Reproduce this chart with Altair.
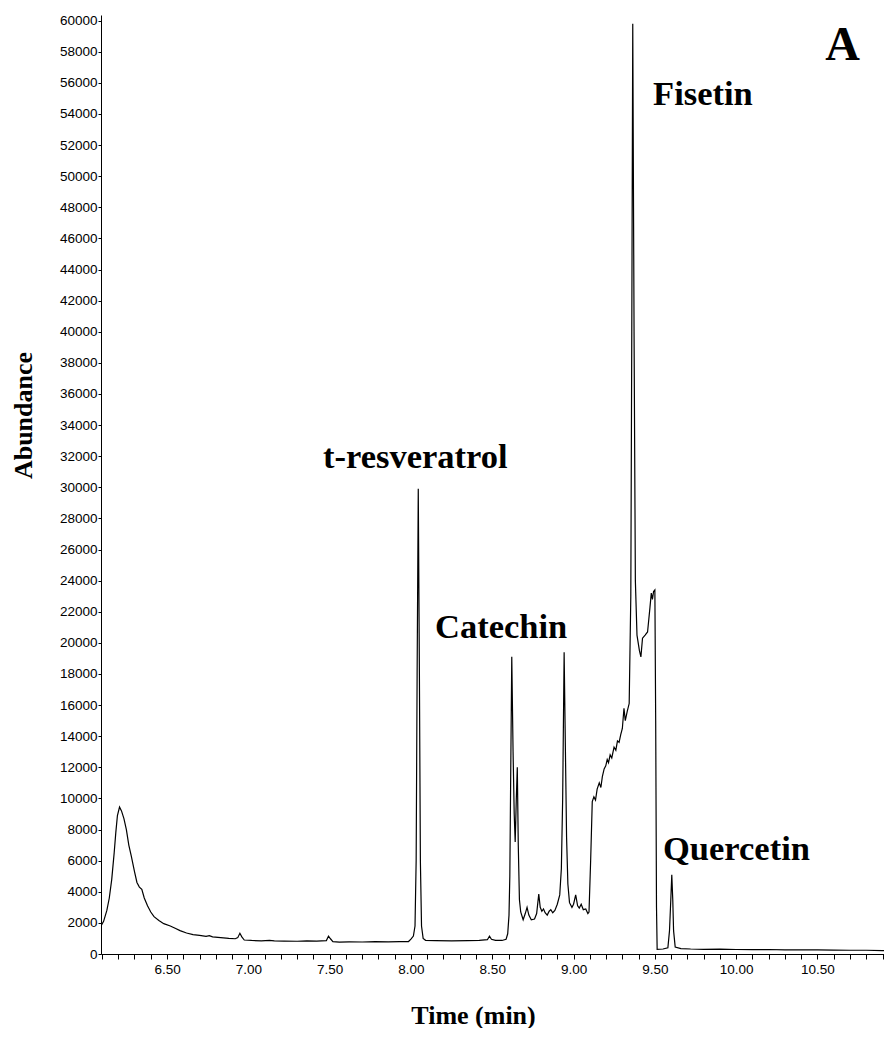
import altair as alt
import pandas as pd

# Chromatogram trace (time in min, abundance)
time_min = [
    6.094, 6.11, 6.13, 6.145, 6.16, 6.175, 6.185, 6.195, 6.208, 6.22, 6.235, 6.25, 6.265, 6.28,
    6.30, 6.315, 6.33, 6.345, 6.36, 6.38, 6.40, 6.42, 6.45, 6.48, 6.52, 6.55, 6.58, 6.62, 6.66,
    6.70, 6.74, 6.76, 6.78, 6.83, 6.88, 6.92, 6.935, 6.948, 6.96, 6.975, 7.02, 7.08, 7.13, 7.16,
    7.22, 7.30, 7.36, 7.42, 7.48, 7.493, 7.505, 7.52, 7.56, 7.62, 7.70, 7.78, 7.86, 7.93, 7.985,
    8.00, 8.015, 8.025, 8.032, 8.038, 8.045, 8.052, 8.058, 8.065, 8.075, 8.09, 8.15, 8.25, 8.35,
    8.42, 8.47, 8.483, 8.495, 8.52, 8.56, 8.585, 8.595, 8.603, 8.608, 8.613, 8.62, 8.628, 8.635,
    8.641, 8.648, 8.654, 8.66, 8.667, 8.675, 8.69, 8.703, 8.714, 8.725, 8.74, 8.76, 8.773, 8.786,
    8.795, 8.805, 8.815, 8.825, 8.838, 8.85, 8.86, 8.872, 8.885, 8.90, 8.915, 8.925, 8.933, 8.942,
    8.95, 8.957, 8.965, 8.975, 8.99, 9.00, 9.013, 9.025, 9.035, 9.047, 9.06, 9.075, 9.088, 9.095,
    9.105, 9.115, 9.125, 9.135, 9.145, 9.158, 9.168, 9.177, 9.188, 9.198, 9.207, 9.215, 9.225,
    9.235, 9.249, 9.26, 9.27, 9.28, 9.29, 9.30, 9.31, 9.318, 9.33, 9.342, 9.352, 9.358, 9.364,
    9.372, 9.38, 9.39, 9.405, 9.414, 9.424, 9.44, 9.455, 9.47, 9.478, 9.485, 9.492, 9.50, 9.505,
    9.51, 9.514, 9.55, 9.58, 9.59, 9.598, 9.604, 9.61, 9.615, 9.625, 9.66, 9.72, 9.80, 9.90,
    10.00, 10.10, 10.20, 10.30, 10.40, 10.50, 10.60, 10.70, 10.80, 10.90, 10.96,
]
abundance = [
    1800, 2100, 2800, 3600, 4800, 6500, 7800, 8900, 9450, 9200, 8700, 8000, 7000, 6300,
    5300, 4600, 4300, 4150, 3600, 3100, 2700, 2400, 2150, 1950, 1800, 1650, 1500, 1350, 1250,
    1200, 1130, 1180, 1100, 1050, 1000, 980, 1050, 1330, 1100, 900, 870, 850, 880, 840,
    830, 820, 840, 830, 860, 1150, 980, 800, 760, 780, 770, 790, 780, 790, 800,
    950, 1150, 1800, 6000, 18000, 29900, 18000, 6000, 1800, 1000, 880, 860, 840, 860,
    870, 920, 1150, 950, 880, 870, 950, 1300, 2500, 5000, 11000, 19100, 13000, 9000,
    7200, 10000, 12000, 7000, 3500, 2700, 2200, 2600, 3000, 2500, 2200, 2250, 2600, 3850,
    3000, 2750, 2900, 2650, 2500, 2750, 2850, 2650, 2800, 3200, 3800, 5500, 10000, 19400,
    13000, 7500, 4500, 3300, 3000, 3200, 3800, 3100, 2950, 3200, 2850, 2900, 2600, 2700,
    6000, 9800, 10100, 9900, 10600, 11000, 10700, 11400, 11900, 12100, 12500, 12300, 12800,
    12600, 13300, 13100, 13700, 13600, 14100, 14500, 15800, 15000, 15600, 16100, 23000, 40000, 59800,
    40000, 24000, 20500, 19500, 19100, 20300, 20500, 20700, 22300, 23200, 22800, 23300, 23400, 15000,
    3000, 300, 320, 400, 1500, 3500, 5100, 3500, 1500, 450, 350, 320, 300, 310,
    290, 280, 290, 270, 260, 260, 250, 240, 240, 220, 220,
]

# Peak annotations
label_text = ["t-resveratrol", "Catechin", "Fisetin", "Quercetin"]
label_time = [7.459, 8.148, 9.489, 9.550]
label_abund = [31245, 20315, 54580, 6043]

panel_text = ["A"]
panel_time = [10.547]
panel_abund = [57475]

x_ticks = [round(6.1 + 0.1 * i, 1) for i in range(49)]
y_ticks = list(range(0, 60001, 2000))

trace = pd.DataFrame({"t": time_min, "a": abundance})
labels = pd.DataFrame({"t": label_time, "a": label_abund, "text": label_text})
panel = pd.DataFrame({"t": panel_time, "a": panel_abund, "text": panel_text})

x_scale = alt.Scale(domain=[6.094, 10.909], nice=False, zero=False)
y_scale = alt.Scale(domain=[0, 60360], nice=False)

x_axis = alt.Axis(
    values=x_ticks,
    labelExpr="abs(datum.value*2 - round(datum.value*2)) < 0.001 ? format(datum.value, '.2f') : ''",
    labelOverlap=False,
    tickSize=5, tickColor="black", domainColor="black", labelColor="black",
    labelFont="Liberation Sans", labelFontSize=13.5, labelPadding=3,
    grid=False, title="Time (min)", titleFont="Liberation Serif", titleFontSize=26,
    titleFontWeight="bold", titleColor="black", titleX=372, titleY=69,
    titleBaseline="alphabetic", titleAnchor="start", titleAlign="center",
)
y_axis = alt.Axis(
    values=y_ticks, format="d", labelOverlap=False,
    tickSize=3, tickColor="black", domainColor="black", labelColor="black",
    labelFont="Liberation Sans", labelFontSize=13.5, labelPadding=1,
    grid=False, title="Abundance", titleFont="Liberation Serif", titleFontSize=26,
    titleFontWeight="bold", titleColor="black", titleAngle=270, titleX=-70, titleY=400,
    titleBaseline="alphabetic", titleAlign="center", titleAnchor="start",
)

line = alt.Chart(trace).mark_line(color="black", strokeWidth=1.2, clip=True).encode(
    x=alt.X("t:Q", scale=x_scale, axis=x_axis),
    y=alt.Y("a:Q", scale=y_scale, axis=y_axis),
    order="t:Q",
)

text = alt.Chart(labels).mark_text(
    font="Liberation Serif", fontSize=34.5, fontWeight="bold", align="left",
    baseline="alphabetic", color="black",
).encode(
    x=alt.X("t:Q", scale=x_scale, axis=x_axis),
    y=alt.Y("a:Q", scale=y_scale, axis=y_axis),
    text="text:N",
)

ptext = alt.Chart(panel).mark_text(
    font="Liberation Serif", fontSize=48, fontWeight="bold", align="left",
    baseline="alphabetic", color="black",
).encode(
    x=alt.X("t:Q", scale=x_scale, axis=x_axis),
    y=alt.Y("a:Q", scale=y_scale, axis=y_axis),
    text="text:N",
)

chart = alt.layer(line, text, ptext).properties(
    width=783, height=939,
    autosize=alt.AutoSizeParams(type="none"),
    padding={"left": 93, "top": 7, "right": 0, "bottom": 74},
    background="white",
).configure_view(stroke=None).configure_axis(labelOverlap=False, labelBound=False, labelFlush=False)

chart.save("out.html", embed_options={"renderer": "svg", "actions": False})
